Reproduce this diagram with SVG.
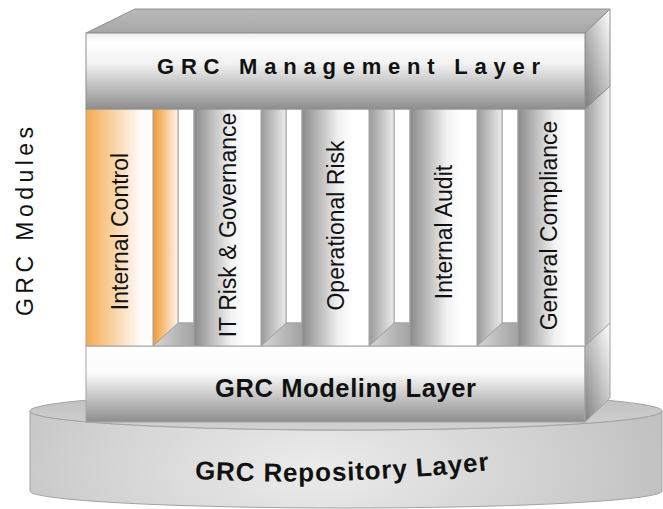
<svg xmlns="http://www.w3.org/2000/svg" width="663" height="509" viewBox="0 0 663 509">
<defs>
<style>
.lbl{font-family:"Liberation Sans",Arial,sans-serif;fill:#111}
.bold{font-weight:bold}
.vt{font-size:23px}
.edge{stroke:#a3a3a3;stroke-width:1}
.edge2{stroke:#8e8e8e;stroke-width:1}
</style>
<linearGradient id="gMgmtFront" x1="0" y1="0" x2="0" y2="1">
<stop offset="0" stop-color="#ececec"/><stop offset="0.12" stop-color="#ffffff"/><stop offset="0.4" stop-color="#f2f2f2"/><stop offset="1" stop-color="#8e8e8e"/>
</linearGradient>
<linearGradient id="gTop" x1="0" y1="0" x2="0" y2="1">
<stop offset="0" stop-color="#bababa"/><stop offset="1" stop-color="#a6a6a6"/>
</linearGradient>
<linearGradient id="gSide" x1="1" y1="0" x2="0" y2="1">
<stop offset="0" stop-color="#ffffff"/><stop offset="0.5" stop-color="#bdbdbd"/><stop offset="1" stop-color="#7c7c7c"/>
</linearGradient>
<linearGradient id="gPanel" x1="0" y1="0" x2="1" y2="0">
<stop offset="0" stop-color="#9c9c9c"/><stop offset="1" stop-color="#f0f0f0"/>
</linearGradient>
<linearGradient id="gModelSide" x1="1" y1="0" x2="0" y2="1">
<stop offset="0" stop-color="#ffffff"/><stop offset="0.45" stop-color="#c6c6c6"/><stop offset="1" stop-color="#808080"/>
</linearGradient>
<linearGradient id="gModelFront" x1="0" y1="0" x2="0" y2="1">
<stop offset="0" stop-color="#ffffff"/><stop offset="0.35" stop-color="#fbfbfb"/><stop offset="1" stop-color="#8e8e8e"/>
</linearGradient>
<linearGradient id="gOrangeFront" x1="0" y1="0" x2="1" y2="0">
<stop offset="0" stop-color="#f5ab50"/><stop offset="0.5" stop-color="#fbdcb8"/><stop offset="0.8" stop-color="#fffaf5"/><stop offset="1" stop-color="#ffffff"/>
</linearGradient>
<linearGradient id="gOrangeSide" x1="0" y1="0" x2="1" y2="0">
<stop offset="0" stop-color="#f19a30"/><stop offset="1" stop-color="#fff4ea"/>
</linearGradient>
<linearGradient id="gGrayFront" x1="0" y1="0" x2="1" y2="0">
<stop offset="0" stop-color="#8a8a8a"/><stop offset="0.55" stop-color="#f2f2f2"/><stop offset="0.75" stop-color="#ffffff"/><stop offset="1" stop-color="#ffffff"/>
</linearGradient>
<linearGradient id="gGraySide" x1="0" y1="0" x2="1" y2="0">
<stop offset="0" stop-color="#9a9a9a"/><stop offset="1" stop-color="#ececec"/>
</linearGradient>
<linearGradient id="gFloor" x1="0" y1="0" x2="1" y2="0">
<stop offset="0" stop-color="#d6d6d6"/><stop offset="1" stop-color="#a2a2a2"/>
</linearGradient>
<linearGradient id="gCylTop" x1="0" y1="0" x2="0" y2="1">
<stop offset="0" stop-color="#bdbdbd"/><stop offset="1" stop-color="#d2d2d2"/>
</linearGradient>
<radialGradient id="gCylWall" cx="0.45" cy="0.6" r="0.55" gradientTransform="translate(0.45,0.6) scale(1,3) translate(-0.45,-0.6)">
<stop offset="0" stop-color="#ececec"/><stop offset="0.6" stop-color="#d4d4d4"/><stop offset="1" stop-color="#c2c2c2"/>
</radialGradient>
<path id="repoArc" d="M195,479 Q330,487 492,470"/>
</defs>

<rect width="663" height="509" fill="#ffffff"/>

<g id="label-grc-modules">
<text class="lbl" font-size="23" fill="#333" transform="translate(32.5,221.5) rotate(-90)" text-anchor="middle" textLength="189" lengthAdjust="spacing">GRC Modules</text>
</g>

<g id="repository-layer">
<path d="M30,411 L30,491 A316,17 0 0 0 662,491 L662,411 A316,19 0 0 1 30,411 Z" fill="url(#gCylWall)" class="edge"/>
<ellipse cx="346" cy="411" rx="316" ry="19" fill="url(#gCylTop)" class="edge"/>
<text class="lbl bold" font-size="26"><textPath href="#repoArc" textLength="295" lengthAdjust="spacing">GRC Repository Layer</textPath></text>
</g>

<g id="modeling-layer">
<rect x="86" y="346" width="499" height="76" fill="url(#gModelFront)" class="edge"/>
<polygon points="585,346 610,323 610,398 585,422" fill="url(#gModelSide)" class="edge"/>
<text class="lbl bold" x="215" y="397" font-size="25.5" textLength="261" lengthAdjust="spacing">GRC Modeling Layer</text>
</g>

<g id="module-internal-control">
<rect x="178" y="109" width="16" height="214" fill="#ffffff" class="edge"/>
<polygon points="153,346 178,323 194,323 194,346" fill="url(#gFloor)" class="edge"/>
<polygon points="153,109 178,109 178,323 153,346" fill="url(#gOrangeSide)" class="edge"/>
<rect x="86" y="109" width="67" height="237" fill="url(#gOrangeFront)" class="edge"/>
<text class="lbl vt" transform="translate(127.5,231.5) rotate(-90)" text-anchor="middle">Internal Control</text>
</g>

<g id="module-it-risk-governance">
<rect x="286" y="109" width="16" height="214" fill="#ffffff" class="edge"/>
<polygon points="261,346 286,323 302,323 302,346" fill="url(#gFloor)" class="edge"/>
<polygon points="261,109 286,109 286,323 261,346" fill="url(#gGraySide)" class="edge"/>
<rect x="194" y="109" width="67" height="237" fill="url(#gGrayFront)" class="edge"/>
<text class="lbl vt" transform="translate(235.5,225) rotate(-90)" text-anchor="middle">IT Risk &amp; Governance</text>
</g>

<g id="module-operational-risk">
<rect x="394" y="109" width="16" height="214" fill="#ffffff" class="edge"/>
<polygon points="369,346 394,323 410,323 410,346" fill="url(#gFloor)" class="edge"/>
<polygon points="369,109 394,109 394,323 369,346" fill="url(#gGraySide)" class="edge"/>
<rect x="302" y="109" width="67" height="237" fill="url(#gGrayFront)" class="edge"/>
<text class="lbl vt" transform="translate(343.5,225.5) rotate(-90)" text-anchor="middle">Operational Risk</text>
</g>

<g id="module-internal-audit">
<rect x="502" y="109" width="16" height="214" fill="#ffffff" class="edge"/>
<polygon points="477,346 502,323 518,323 518,346" fill="url(#gFloor)" class="edge"/>
<polygon points="477,109 502,109 502,323 477,346" fill="url(#gGraySide)" class="edge"/>
<rect x="410" y="109" width="67" height="237" fill="url(#gGrayFront)" class="edge"/>
<text class="lbl vt" transform="translate(451.5,232) rotate(-90)" text-anchor="middle">Internal Audit</text>
</g>

<g id="module-general-compliance">
<polygon points="585,109 610,86 610,323 585,346" fill="url(#gPanel)" class="edge"/>
<rect x="518" y="109" width="67" height="237" fill="url(#gGrayFront)" class="edge"/>
<text class="lbl vt" transform="translate(556.5,225.5) rotate(-90)" text-anchor="middle">General Compliance</text>
</g>

<g id="management-layer">
<polygon points="86,33 135,9 610,9 585,33" fill="url(#gTop)" class="edge2"/>
<polygon points="585,33 610,9 610,86 585,109" fill="url(#gSide)" class="edge2"/>
<rect x="86" y="33" width="499" height="76" fill="url(#gMgmtFront)" class="edge2"/>
<text class="lbl bold" x="157" y="73.5" font-size="22" textLength="383" lengthAdjust="spacing">GRC Management Layer</text>
</g>

<g id="connectors"/>
</svg>
